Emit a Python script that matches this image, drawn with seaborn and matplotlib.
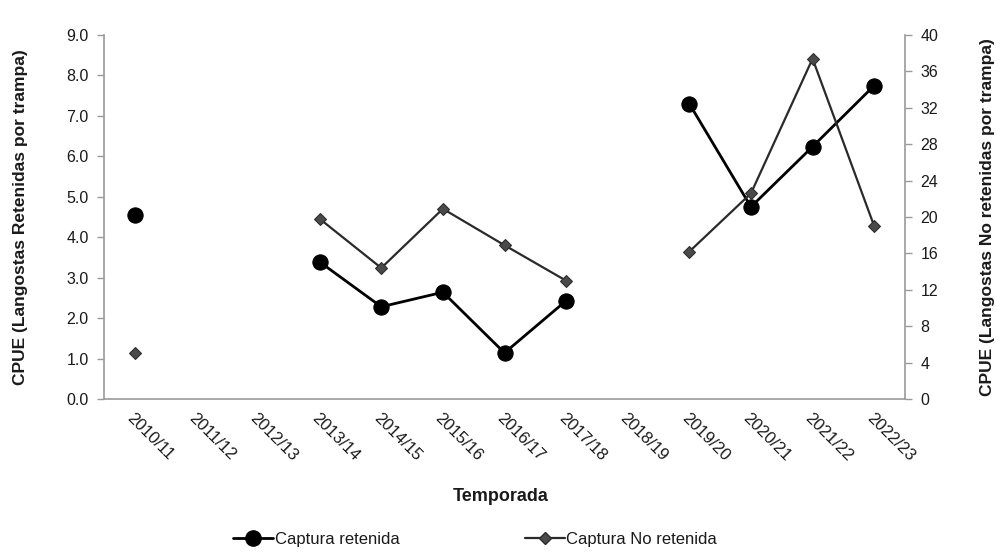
import numpy as np
import pandas as pd
import seaborn as sns
import matplotlib
matplotlib.use("Agg")
import matplotlib.pyplot as plt
from matplotlib.lines import Line2D

temporadas = ["2010/11", "2011/12", "2012/13", "2013/14", "2014/15", "2015/16",
              "2016/17", "2017/18", "2018/19", "2019/20", "2020/21", "2021/22", "2022/23"]
retenida = [4.55, np.nan, np.nan, 3.39, 2.28, 2.64, 1.14, 2.43, np.nan, 7.30, 4.75, 6.24, 7.75]
no_retenida = [5.1, np.nan, np.nan, 19.8, 14.4, 20.9, 16.9, 13.0, np.nan, 16.2, 22.6, 37.4, 19.0]
left_ticks = [0, 1, 2, 3, 4, 5, 6, 7, 8, 9]
right_ticks = [0, 4, 8, 12, 16, 20, 24, 28, 32, 36, 40]

sns.set_theme(style="white")
plt.rcParams["font.family"] = ["Liberation Sans", "DejaVu Sans"]

def segments(values):
    seg, out, prev_nan = 0, [], True
    for v in values:
        if np.isnan(v):
            prev_nan = True
            out.append(-1)
        else:
            if prev_nan:
                seg += 1
            prev_nan = False
            out.append(seg)
    return out

df = pd.DataFrame({"x": np.arange(len(temporadas)), "ret": retenida, "noret": no_retenida})
df["seg_r"] = segments(retenida)
df["seg_n"] = segments(no_retenida)

fig = plt.figure(figsize=(10, 5.56), dpi=100)
ax = fig.add_axes([0.104, 0.2824, 0.801, 0.6546])
ax2 = ax.twinx()

gray = "#9a9a9a"
txt = "#1a1a1a"

dr = df.dropna(subset=["ret"])
sns.lineplot(data=dr, x="x", y="ret", units="seg_r", estimator=None, ax=ax,
             color="black", lw=2.0, marker="o", markersize=11, markeredgecolor="black",
             legend=False)
dn = df.dropna(subset=["noret"])
sns.lineplot(data=dn, x="x", y="noret", units="seg_n", estimator=None, ax=ax2,
             color="#2a2a2a", lw=1.6, marker="D", markersize=6.5, markerfacecolor="#4a4a4a",
             markeredgecolor="#2a2a2a", legend=False)

ax.set_xlim(-0.5, len(temporadas) - 0.5)
ax.set_ylim(0, 9)
ax2.set_ylim(0, 40)
ax.set_yticks(left_ticks)
ax.set_yticklabels([f"{v:.1f}" for v in left_ticks])
ax2.set_yticks(right_ticks)
ax2.set_yticklabels([str(v) for v in right_ticks])

ax.set_xticks(np.arange(-0.5, len(temporadas)), minor=False)
ax.set_xticklabels([])
ax.set_xticks(np.arange(len(temporadas)), minor=True)
ax.set_xticklabels(temporadas, minor=True, rotation=-45, ha="left", va="top",
                   rotation_mode="anchor", fontsize=12, color=txt)
ax.tick_params(axis="x", which="minor", length=0, pad=8)
ax.tick_params(axis="x", which="major", length=5, color=gray, direction="out", width=1)
ax.tick_params(axis="y", length=5, color=gray, direction="out", width=1, labelsize=11.5,
               labelcolor=txt, pad=6)
ax2.tick_params(axis="y", length=5, color=gray, direction="out", width=1, labelsize=11.5,
                labelcolor=txt, pad=6)

for a in (ax, ax2):
    a.spines["top"].set_visible(False)
    for s in ("left", "right", "bottom"):
        a.spines[s].set_color(gray)
        a.spines[s].set_linewidth(1.2)
ax.spines["right"].set_visible(False)
ax2.spines["left"].set_visible(False)
ax2.spines["bottom"].set_visible(False)

ax.set_xlabel("Temporada", fontsize=13, fontweight="bold", color=txt)
ax.xaxis.set_label_coords(0.495, -0.245)
ax.set_ylabel("CPUE (Langostas Retenidas por trampa)", fontsize=12.5, fontweight="bold",
              color=txt)
ax.yaxis.set_label_coords(-0.095, 0.5)
ax2.set_ylabel("CPUE (Langostas No retenidas por trampa)", fontsize=12.5, fontweight="bold",
               color=txt, rotation=90)
ax2.yaxis.set_label_coords(1.094, 0.5)

handles = [
    Line2D([], [], color="black", lw=2.0, marker="o", markersize=11),
    Line2D([], [], color="#2a2a2a", lw=1.6, marker="D", markersize=6.5,
           markerfacecolor="#4a4a4a"),
]
fig.legend(handles, ["Captura retenida", "Captura No retenida"], loc="center",
           bbox_to_anchor=(0.475, 0.03), ncol=2, frameon=False, fontsize=12,
           handlelength=2.4, handletextpad=0.1, columnspacing=7.5,
           labelcolor=txt)

fig.savefig("out.png", dpi=100, facecolor="white")
